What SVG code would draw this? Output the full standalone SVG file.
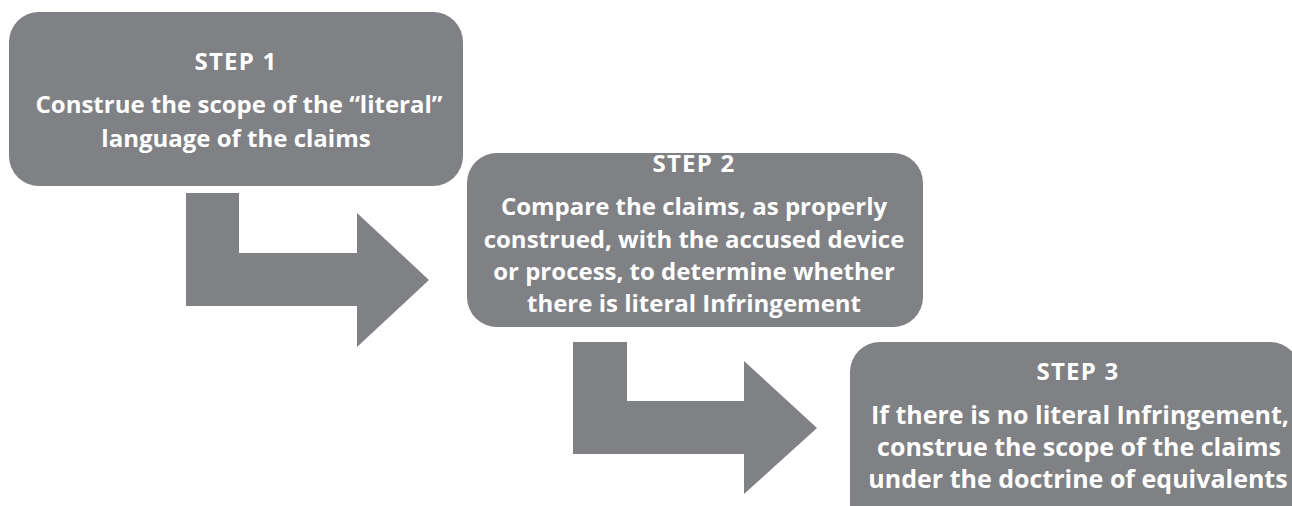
<svg xmlns="http://www.w3.org/2000/svg" width="1292" height="506" viewBox="0 0 1292 506">
  <style>
    .box { fill: #808184; }
    .arrow { fill: #808184; }
    .t { fill: #ffffff; font-family: "Open Sans", "Liberation Sans", sans-serif; font-weight: 700; font-size: 24px; text-anchor: middle; }
    .h { letter-spacing: 1.2px; }
    .big { font-size: 25px; }
  </style>
  <rect width="1292" height="506" fill="#ffffff"/>
  <g id="connectors">
    <path class="arrow" d="M186,193 H239 V253 H357 V213 L429,280 L357,347 V306 H186 Z"/>
    <path class="arrow" d="M573,342 H627 V401 H744 V361 L817,428 L744,494 V454 H573 Z"/>
  </g>
  <g id="step1">
    <rect class="box" x="9" y="12" width="454" height="174" rx="30"/>
    <text class="t h" x="236" y="70">STEP 1</text>
    <text class="t" x="239" y="113">Construe the scope of the “literal”</text>
    <text class="t" x="236" y="147">language of the claims</text>
  </g>
  <g id="step2">
    <rect class="box" x="467" y="153" width="456" height="174" rx="30"/>
    <text class="t h" x="694" y="172">STEP 2</text>
    <text class="t" x="694" y="215">Compare the claims, as properly</text>
    <text class="t" x="694" y="248">construed, with the accused device</text>
    <text class="t" x="694" y="280">or process, to determine whether</text>
    <text class="t" x="694" y="312">there is literal Infringement</text>
  </g>
  <g id="step3">
    <rect class="box" x="850" y="342" width="450" height="200" rx="30"/>
    <text class="t h" x="1078" y="380">STEP 3</text>
    <text class="t big" x="1080" y="424">If there is no literal Infringement,</text>
    <text class="t big" x="1079" y="456">construe the scope of the claims</text>
    <text class="t big" x="1078" y="488">under the doctrine of equivalents</text>
  </g>
</svg>
